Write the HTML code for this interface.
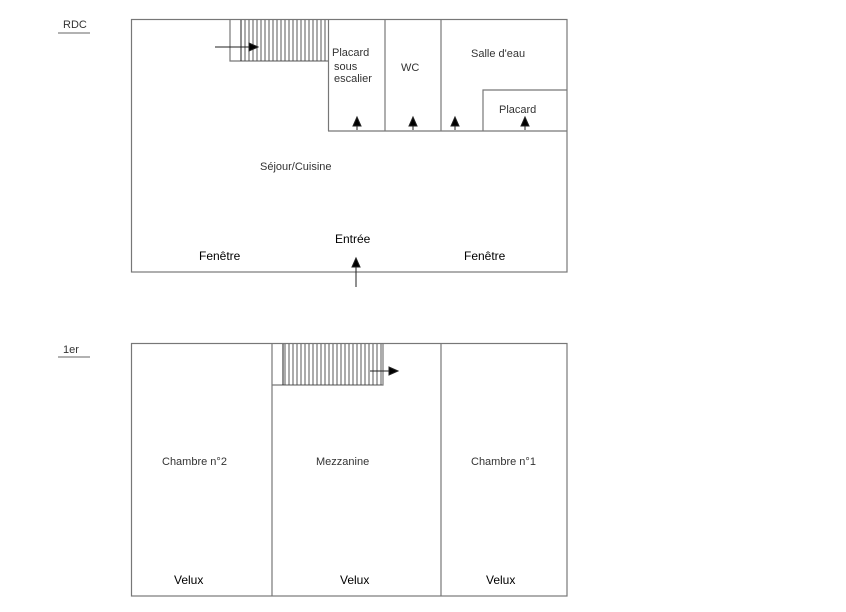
<!DOCTYPE html>
<html><head><meta charset="utf-8"><style>
html,body{margin:0;padding:0;background:#fff;}
svg{display:block;}
text{font-family:"Liberation Sans",Arial,sans-serif;}
</style></head><body>
<svg width="846" height="612" viewBox="0 0 846 612" xmlns="http://www.w3.org/2000/svg">
<defs>
<pattern id="h" x="0" y="0" width="4" height="10" patternUnits="userSpaceOnUse">
<line x1="1" y1="0" x2="1" y2="10" stroke="#444" stroke-width="0.9"/>
</pattern>
</defs>
<g stroke="#777" stroke-width="1.2" fill="none">
<rect x="131.5" y="19.5" width="435.5" height="252.5"/>
<line x1="328.5" y1="19" x2="328.5" y2="131"/>
<line x1="385" y1="19" x2="385" y2="131"/>
<line x1="441" y1="19" x2="441" y2="131"/>
<line x1="328" y1="131" x2="567" y2="131"/>
<polyline points="483,131 483,90 567,90"/>
<polyline points="230,19 230,61 328,61"/>
<rect x="131.5" y="343.5" width="435.5" height="252.5"/>
<line x1="272" y1="343" x2="272" y2="596"/>
<line x1="441" y1="343" x2="441" y2="596"/>
<polyline points="272,385 383,385 383,343"/>
</g>
<rect x="241" y="20" width="86" height="41" fill="url(#h)"/>
<line x1="241" y1="20" x2="241" y2="61" stroke="#222" stroke-width="1"/>
<rect x="283" y="344" width="100" height="41" fill="url(#h)"/>
<line x1="283" y1="344" x2="283" y2="385" stroke="#222" stroke-width="1"/>
<g stroke="#222" stroke-width="1" fill="#000">
<line x1="215" y1="47" x2="250" y2="47"/><polygon points="258,47 249,43 249,51"/>
<line x1="370" y1="371" x2="390" y2="371"/><polygon points="398,371 389,367 389,375"/>
<line x1="356" y1="287" x2="356" y2="265"/><polygon points="356,258 352,267 360,267"/>
<line x1="357" y1="130" x2="357" y2="124"/><polygon points="357,117 353,126 361,126"/>
<line x1="413" y1="130" x2="413" y2="124"/><polygon points="413,117 409,126 417,126"/>
<line x1="455" y1="130" x2="455" y2="124"/><polygon points="455,117 451,126 459,126"/>
<line x1="525" y1="130" x2="525" y2="124"/><polygon points="525,117 521,126 529,126"/>
</g>
<g font-size="11" fill="#333">
<text x="63" y="28">RDC</text>
<line x1="58" y1="33" x2="90" y2="33" stroke="#666"/>
<text x="63" y="353">1er</text>
<line x1="58" y1="357" x2="90" y2="357" stroke="#666"/>
<text x="332" y="56">Placard</text>
<text x="334" y="70">sous</text>
<text x="334" y="82">escalier</text>
<text x="401" y="71">WC</text>
<text x="471" y="57">Salle d'eau</text>
<text x="499" y="113">Placard</text>
<text x="260" y="170">Séjour/Cuisine</text>
<text x="162" y="465">Chambre n°2</text>
<text x="316" y="465">Mezzanine</text>
<text x="471" y="465">Chambre n°1</text>
</g>
<g font-size="12" fill="#000">
<text x="335" y="243">Entrée</text>
<text x="199" y="260">Fenêtre</text>
<text x="464" y="260">Fenêtre</text>
<text x="174" y="584">Velux</text>
<text x="340" y="584">Velux</text>
<text x="486" y="584">Velux</text>
</g>
</svg>
</body></html>
